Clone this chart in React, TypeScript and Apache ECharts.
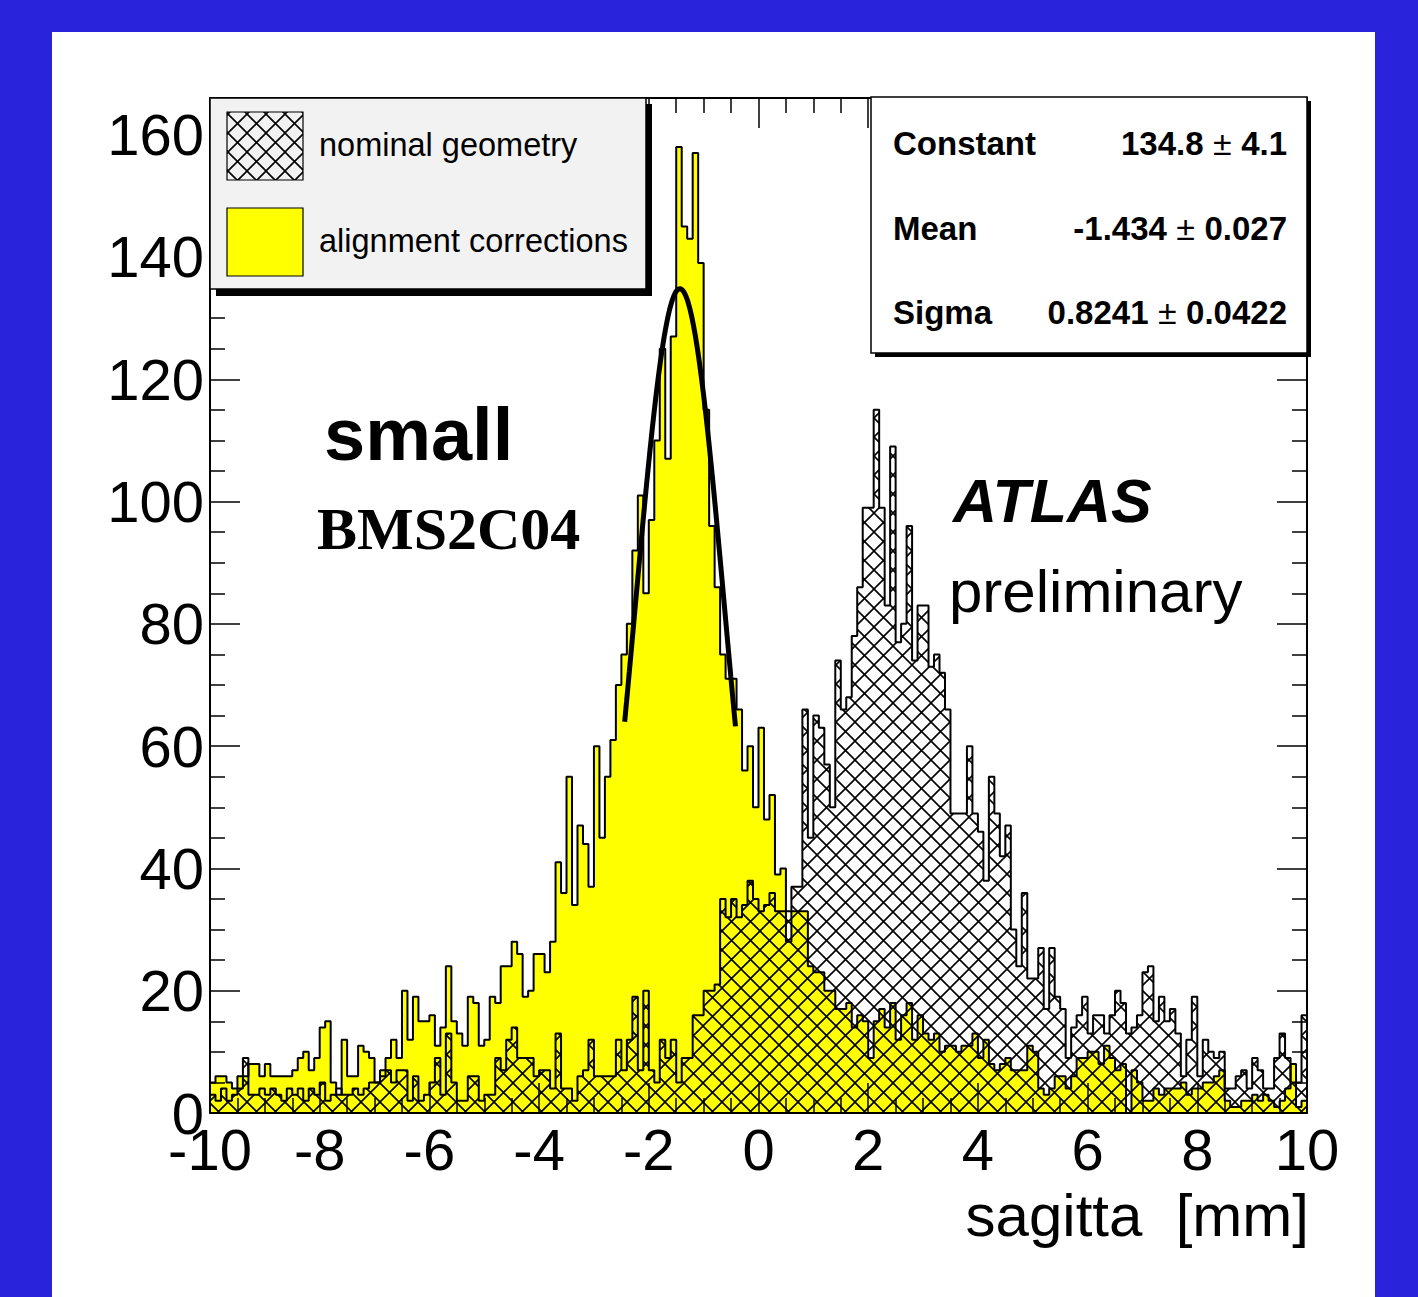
import React, { useEffect, useRef } from "react";
import * as echarts from "echarts";

// ---------- data ----------
const binMin = -10;
const binWidth = 0.1;

// yellow histogram: "alignment corrections" (counts per 0.1 mm bin, -10 .. 10)
const alignmentCorrections = [
  5, 6, 6, 5, 4, 6, 6, 8, 8, 6,
  8, 6, 6, 6, 6, 7, 9, 10, 7, 9,
  14, 15, 5, 3, 12, 6, 6, 11, 10, 9,
  5, 7, 9, 12, 9, 20, 12, 19, 15, 15,
  16, 11, 14, 24, 15, 13, 11, 19, 18, 11,
  12, 19, 18, 24, 24, 28, 26, 19, 20, 26,
  26, 23, 28, 41, 36, 55, 34, 47, 44, 37,
  60, 45, 55, 61, 70, 75, 80, 92, 101, 85,
  97, 110, 125, 107, 127, 158, 145, 143, 157, 139,
  115, 96, 86, 75, 71, 71, 66, 56, 60, 50,
  63, 48, 52, 39, 40, 28, 33, 33, 33, 24,
  23, 23, 20, 20, 17, 17, 18, 14, 16, 15,
  9, 15, 17, 14, 18, 12, 16, 18, 12, 16,
  13, 12, 13, 10, 11, 11, 10, 11, 11, 13,
  9, 12, 8, 7, 8, 9, 7, 7, 7, 11,
  10, 4, 3, 4, 6, 6, 4, 6, 9, 9,
  10, 10, 8, 11, 9, 7, 8, 0, 7, 5,
  2, 2, 4, 3, 4, 4, 4, 5, 3, 4,
  4, 5, 5, 6, 7, 2, 1, 1, 2, 2,
  3, 2, 3, 2, 1, 2, 4, 8, 1, 2,
];

// hatched histogram: "nominal geometry"
const nominalGeometry = [
  3, 2, 4, 2, 3, 4, 9, 3, 3, 4,
  3, 4, 3, 2, 4, 3, 4, 2, 4, 3,
  5, 2, 3, 4, 3, 3, 4, 3, 4, 5,
  5, 6, 7, 5, 7, 7, 2, 6, 2, 3,
  5, 9, 3, 13, 5, 2, 2, 6, 6, 2,
  3, 3, 9, 7, 12, 14, 9, 9, 9, 6,
  7, 7, 4, 13, 4, 4, 2, 6, 7, 12,
  6, 6, 6, 6, 12, 7, 12, 19, 7, 20,
  7, 5, 12, 9, 12, 5, 9, 9, 16, 16,
  20, 20, 21, 35, 32, 35, 32, 34, 38, 35,
  33, 34, 36, 33, 33, 33, 37, 37, 66, 45,
  65, 63, 57, 50, 74, 66, 68, 78, 86, 99,
  99, 115, 99, 83, 109, 77, 80, 96, 74, 83,
  83, 73, 75, 72, 66, 49, 49, 49, 60, 49,
  46, 38, 55, 49, 42, 47, 30, 24, 36, 22,
  22, 27, 17, 27, 19, 17, 9, 14, 16, 19,
  13, 16, 16, 13, 16, 20, 18, 13, 14, 16,
  23, 24, 15, 19, 15, 17, 13, 6, 12, 19,
  6, 12, 10, 9, 10, 4, 4, 6, 7, 4,
  9, 7, 4, 4, 9, 13, 9, 5, 5, 16,
];

// Gaussian fit (parameters as printed in the stats box)
const fitConstant = 134.8;
const fitMean = -1.434;
const fitSigma = 0.8241;
const fitRange = [-2.44, -0.42];

const legendLabels = ["nominal geometry", "alignment corrections"];
const statsNames = ["Constant", "Mean", "Sigma"];
const statsValues = ["134.8", "-1.434", "0.8241"];
const statsErrors = ["4.1", "0.027", "0.0422"];

const xAxisTitle = "sagitta  [mm]";
const chamberLabel = "small";
const chamberName = "BMS2C04";
const expLabel = "ATLAS";
const statusLabel = "preliminary";

// ---------- helpers ----------
const SANS = "'Liberation Sans', Arial, Helvetica, sans-serif";
const SERIF = "'Liberation Serif', 'Times New Roman', serif";

function toSteps(values: number[]) {
  const pts: number[][] = values.map((v, i) => [+(binMin + i * binWidth).toFixed(3), v]);
  pts.push([+(binMin + values.length * binWidth).toFixed(3), values[values.length - 1]]);
  return pts;
}

function fitCurve() {
  const pts: number[][] = [];
  const n = 120;
  for (let k = 0; k <= n; k++) {
    const x = fitRange[0] + ((fitRange[1] - fitRange[0]) * k) / n;
    const d = (x - fitMean) / fitSigma;
    pts.push([x, fitConstant * Math.exp(-0.5 * d * d)]);
  }
  return pts;
}

const T = 19;
const hatchSvg =
  `<svg xmlns="http://www.w3.org/2000/svg" width="${T}" height="${T}">` +
  `<path d="M-2,-2 L${T + 2},${T + 2} M${T - 2},-2 L${T + 2},2 M-2,${T - 2} L2,${T + 2} ` +
  `M${T + 2},-2 L-2,${T + 2} M-2,2 L2,-2 M${T - 2},${T + 2} L${T + 2},${T - 2}" ` +
  `stroke="#000" stroke-width="1.6" fill="none"/></svg>`;
const hatchUrl = "data:image/svg+xml;charset=utf-8," + encodeURIComponent(hatchSvg);
const hatchPattern: any = { image: hatchUrl, repeat: "repeat", imageWidth: T, imageHeight: T };

function makeAxis(kind: "x" | "y", position: string, showLabels: boolean) {
  const isX = kind === "x";
  return {
    type: "value",
    position,
    min: isX ? -10 : 0,
    max: isX ? 10 : 166,
    interval: isX ? 2 : 20,
    z: 10,
    axisLine: { show: true, onZero: false, lineStyle: { color: "#000", width: 2 } },
    axisTick: { show: true, inside: true, length: 30, lineStyle: { color: "#000", width: 1.5 } },
    minorTick: { show: true, splitNumber: 4, length: 15, lineStyle: { color: "#000", width: 1.5 } },
    splitLine: { show: false },
    minorSplitLine: { show: false },
    axisLabel: showLabels
      ? {
          show: true,
          color: "#000",
          fontFamily: SANS,
          fontSize: 58,
          lineHeight: 58,
          margin: isX ? 7 : 6,
          padding: isX ? 0 : [15, 0, 0, 0],
          formatter: (v: number) => (isX ? String(v) : v % 20 === 0 ? String(v) : ""),
        }
      : { show: false },
  };
}

function txt(text: string, x: number, y: number, style: any) {
  return {
    type: "text",
    x,
    y,
    z: 100,
    silent: true,
    style: { text, fill: "#000", fontFamily: SANS, align: "left", verticalAlign: "middle", ...style },
  };
}

function buildOption() {
  const statsRowsY = [143, 228, 312];
  const graphics: any[] = [
    // legend box
    { type: "rect", z: 99, silent: true, shape: { x: 216, y: 104, width: 436, height: 192 }, style: { fill: "#000" } },
    { type: "rect", z: 100, silent: true, shape: { x: 210, y: 98, width: 436, height: 191 }, style: { fill: "#f2f2f2", stroke: "#000", lineWidth: 1.5 } },
    { type: "rect", z: 101, silent: true, shape: { x: 227, y: 112, width: 76, height: 68 }, style: { fill: hatchPattern, stroke: "#000", lineWidth: 1.2 } },
    { type: "rect", z: 101, silent: true, shape: { x: 227, y: 208, width: 76, height: 68 }, style: { fill: "#ffff00", stroke: "#000", lineWidth: 1.2 } },
    txt(legendLabels[0], 319, 145, { fontSize: 32.5 }),
    txt(legendLabels[1], 319, 241, { fontSize: 32.5 }),
    // stats box
    { type: "rect", z: 99, silent: true, shape: { x: 875, y: 101, width: 436, height: 256 }, style: { fill: "#000" } },
    { type: "rect", z: 100, silent: true, shape: { x: 871, y: 97, width: 436, height: 256 }, style: { fill: "#fff", stroke: "#000", lineWidth: 1.5 } },
    // free texts
    txt(chamberLabel, 324, 434, { fontSize: 74, fontWeight: "bold" }),
    txt(chamberName, 317, 529, { fontSize: 60, fontWeight: "bold", fontFamily: SERIF }),
    txt(expLabel, 953, 501, { fontSize: 61, fontWeight: "bold", fontStyle: "italic" }),
    txt(statusLabel, 949, 591, { fontSize: 60 }),
    txt(xAxisTitle, 1309, 1215, { fontSize: 60, align: "right" }),
  ];
  statsNames.forEach((name, i) => {
    graphics.push(txt(name, 893, statsRowsY[i], { fontSize: 33, fontWeight: "bold" }));
    graphics.push({
      type: "text",
      x: 1287,
      y: statsRowsY[i],
      z: 100,
      silent: true,
      style: {
        text: `{b|${statsValues[i]}}{n| ± }{b|${statsErrors[i]}}`,
        align: "right",
        verticalAlign: "middle",
        rich: {
          b: { fontSize: 33, fontWeight: "bold", fontFamily: SANS, fill: "#000" },
          n: { fontSize: 34, fontWeight: "normal", fontFamily: SANS, fill: "#000" },
        },
      },
    });
  });

  return {
    animation: false,
    backgroundColor: "transparent",
    grid: { left: 210, right: 111, top: 98, bottom: 184, containLabel: false },
    xAxis: [makeAxis("x", "bottom", true), makeAxis("x", "top", false)],
    yAxis: [makeAxis("y", "left", true), makeAxis("y", "right", false)],
    series: [
      {
        name: legendLabels[1],
        type: "line",
        step: "end",
        data: toSteps(alignmentCorrections),
        symbol: "none",
        silent: true,
        z: 2,
        lineStyle: { color: "#000", width: 2 },
        areaStyle: { color: "#ffff00", opacity: 1 },
      },
      {
        name: legendLabels[0],
        type: "line",
        step: "end",
        data: toSteps(nominalGeometry),
        symbol: "none",
        silent: true,
        z: 3,
        lineStyle: { color: "#000", width: 2 },
        areaStyle: { color: hatchPattern, opacity: 1 },
      },
      {
        name: "fit",
        type: "line",
        data: fitCurve(),
        symbol: "none",
        silent: true,
        z: 5,
        lineStyle: { color: "#000", width: 5 },
      },
    ],
    graphic: { elements: graphics },
  };
}

export default function App() {
  const ref = useRef<HTMLDivElement>(null);
  useEffect(() => {
    document.body.style.margin = "0";
    const chart = echarts.init(ref.current as HTMLDivElement, null, { renderer: "svg" });
    chart.setOption(buildOption() as any);
    return () => chart.dispose();
  }, []);
  return (
    <div style={{ position: "fixed", left: 0, top: 0, width: 1418, height: 1297, background: "#2924dc" }}>
      <div style={{ position: "absolute", left: 52, top: 32, width: 1323, height: 1265, background: "#ffffff" }} />
      <div ref={ref} style={{ position: "absolute", left: 0, top: 0, width: 1418, height: 1297 }} />
    </div>
  );
}
